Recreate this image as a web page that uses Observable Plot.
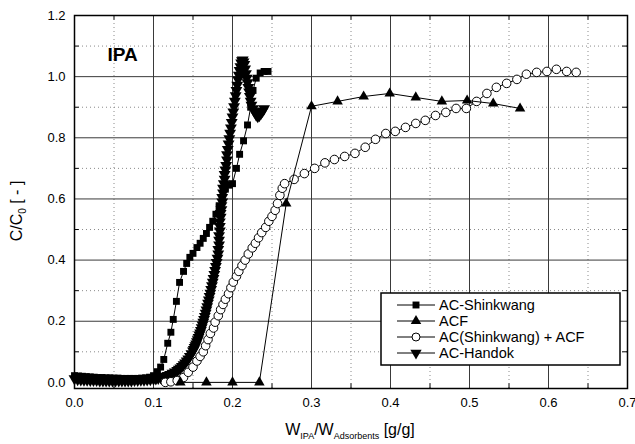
<!DOCTYPE html>
<html>
<head>
<meta charset="utf-8">
<script src="https://cdn.jsdelivr.net/npm/d3@7"></script>
<script src="https://cdn.jsdelivr.net/npm/@observablehq/plot@0.6"></script>
<style>
  html, body { margin: 0; padding: 0; background: #fff; }
  #chart svg { display: block; }
</style>
</head>
<body>
<div id="chart"></div>
<script>
// ---- data ----
const seriesNames = ["AC-Shinkwang", "ACF", "AC(Shinkwang) + ACF", "AC-Handok"];
const xTicks = [0, 0.1, 0.2, 0.3, 0.4, 0.5, 0.6, 0.7];
const yTicks = [0, 0.2, 0.4, 0.6, 0.8, 1.0, 1.2];
const xMinor = [0.05, 0.15, 0.25, 0.35, 0.45, 0.55, 0.65];
const yMinor = [0.1, 0.3, 0.5, 0.7, 0.9, 1.1];

const shinkwangX = [0.000,0.005,0.010,0.015,0.020,0.025,0.030,0.035,0.040,0.045,0.050,0.055,0.060,0.065,0.070,0.075,0.080,0.085,0.090,0.095,0.100,0.105,0.109,0.113,0.118,0.122,0.125,0.129,0.133,0.138,0.142,0.146,0.150,0.155,0.159,0.163,0.167,0.171,0.175,0.179,0.183,0.187,0.191,0.196,0.200,0.205,0.209,0.214,0.219,0.223,0.226,0.230,0.235,0.240,0.245];
const shinkwangY = [0.022,0.021,0.020,0.019,0.018,0.017,0.016,0.016,0.015,0.015,0.014,0.014,0.013,0.013,0.013,0.013,0.013,0.014,0.015,0.017,0.022,0.035,0.050,0.075,0.128,0.164,0.206,0.265,0.327,0.363,0.389,0.409,0.422,0.441,0.455,0.471,0.487,0.507,0.527,0.550,0.575,0.605,0.632,0.645,0.650,0.700,0.746,0.790,0.842,0.900,0.955,0.995,1.012,1.017,1.017];

const acfX = [0.134,0.167,0.200,0.234,0.268,0.300,0.333,0.366,0.399,0.432,0.465,0.497,0.530,0.564];
const acfY = [0.000,0.000,0.000,0.000,0.585,0.903,0.919,0.935,0.945,0.932,0.919,0.922,0.912,0.896];

const mixX = [0.115,0.122,0.130,0.138,0.144,0.150,0.155,0.159,0.163,0.166,0.169,0.172,0.176,0.178,0.182,0.185,0.188,0.191,0.195,0.198,0.201,0.205,0.208,0.212,0.216,0.220,0.225,0.229,0.233,0.237,0.242,0.246,0.250,0.254,0.257,0.260,0.263,0.266,0.278,0.291,0.304,0.317,0.329,0.342,0.355,0.368,0.381,0.394,0.406,0.419,0.432,0.444,0.457,0.470,0.483,0.496,0.509,0.522,0.534,0.547,0.560,0.572,0.585,0.598,0.610,0.623,0.635];
const mixY = [0.000,0.002,0.006,0.016,0.033,0.050,0.070,0.085,0.100,0.120,0.140,0.160,0.178,0.197,0.218,0.238,0.255,0.272,0.290,0.310,0.328,0.347,0.363,0.382,0.400,0.420,0.440,0.455,0.473,0.490,0.507,0.527,0.543,0.563,0.585,0.612,0.635,0.650,0.664,0.683,0.700,0.718,0.729,0.739,0.749,0.769,0.795,0.814,0.821,0.834,0.847,0.857,0.873,0.883,0.896,0.896,0.919,0.945,0.965,0.978,0.991,1.008,1.014,1.017,1.024,1.017,1.014];

const handokX = [0.000,0.004,0.008,0.012,0.016,0.020,0.024,0.028,0.032,0.036,0.040,0.044,0.048,0.052,0.056,0.060,0.064,0.068,0.072,0.076,0.080,0.084,0.088,0.092,0.096,0.100,0.103,0.106,0.109,0.112,0.115,0.118,0.121,0.124,0.127,0.130,0.132,0.134,0.136,0.138,0.140,0.142,0.144,0.146,0.148,0.150,0.151,0.152,0.153,0.154,0.155,0.156,0.157,0.158,0.159,0.160,0.161,0.162,0.163,0.164,0.165,0.166,0.167,0.168,0.169,0.170,0.171,0.172,0.173,0.174,0.175,0.176,0.177,0.178,0.179,0.180,0.181,0.182,0.182,0.183,0.183,0.183,0.184,0.184,0.184,0.185,0.185,0.186,0.186,0.187,0.187,0.188,0.188,0.189,0.190,0.190,0.191,0.192,0.193,0.193,0.194,0.195,0.196,0.197,0.198,0.199,0.200,0.201,0.202,0.203,0.204,0.205,0.206,0.207,0.208,0.209,0.210,0.211,0.212,0.213,0.214,0.215,0.216,0.217,0.218,0.219,0.220,0.221,0.222,0.223,0.224,0.226,0.228,0.230,0.232,0.234,0.236,0.238,0.240];
const handokY = [0.012,0.010,0.009,0.008,0.008,0.007,0.007,0.007,0.006,0.006,0.006,0.006,0.006,0.006,0.006,0.006,0.006,0.006,0.006,0.007,0.007,0.008,0.008,0.009,0.010,0.011,0.012,0.014,0.016,0.018,0.020,0.023,0.026,0.030,0.034,0.039,0.043,0.047,0.052,0.058,0.064,0.070,0.077,0.085,0.094,0.103,0.108,0.114,0.120,0.126,0.133,0.140,0.147,0.155,0.162,0.170,0.179,0.188,0.197,0.206,0.216,0.226,0.237,0.248,0.259,0.270,0.281,0.292,0.304,0.316,0.328,0.340,0.353,0.366,0.379,0.392,0.406,0.420,0.435,0.450,0.465,0.480,0.495,0.510,0.525,0.540,0.553,0.565,0.578,0.590,0.605,0.620,0.635,0.650,0.665,0.680,0.695,0.710,0.728,0.745,0.762,0.780,0.797,0.815,0.832,0.850,0.868,0.885,0.902,0.920,0.938,0.955,0.972,0.990,1.005,1.020,1.033,1.045,1.052,1.055,1.048,1.040,1.025,1.010,0.995,0.980,0.965,0.950,0.935,0.920,0.907,0.895,0.885,0.875,0.870,0.873,0.880,0.887,0.895,0.902,0.908,0.913,0.918,0.922,0.925,0.928,0.930];

// ---- build tables ----
const zip = (xs, ys) => xs.map((x, i) => ({x, y: ys[i]}));
const shinkwang = zip(shinkwangX, shinkwangY);
const acf = zip(acfX, acfY);
const mix = zip(mixX, mixY);
const handok = zip(handokX, handokY);

const triangleDown = {
  draw(context, size) {
    const y = -Math.sqrt(size / (Math.sqrt(3) * 3));
    const s3 = Math.sqrt(3);
    context.moveTo(0, -y * 2);
    context.lineTo(-s3 * y, y);
    context.lineTo(s3 * y, y);
    context.closePath();
  }
};

const FONT = "'Liberation Sans', Arial, Helvetica, sans-serif";

const chart = Plot.plot({
  width: 635,
  height: 444,
  marginLeft: 74,
  marginRight: 8,
  marginTop: 15,
  marginBottom: 56,
  style: {fontFamily: FONT, fontSize: "13px", color: "black", background: "white", overflow: "visible"},
  x: {domain: [0, 0.7]},
  y: {domain: [-0.02, 1.2]},
  marks: [
    // minor dotted grid
    Plot.ruleX(xMinor, {stroke: "#8a8a8a", strokeDasharray: "1,3", strokeWidth: 1}),
    Plot.ruleY(yMinor, {stroke: "#8a8a8a", strokeDasharray: "1,3", strokeWidth: 1}),
    // major grid
    Plot.ruleX(xTicks.slice(1, -1), {stroke: "#3a3a3a", strokeWidth: 1}),
    Plot.ruleY(yTicks.slice(1, -1), {stroke: "#3a3a3a", strokeWidth: 1}),
    // inward minor ticks
    Plot.ruleX(xMinor, {y1: -0.02, y2: -0.005, stroke: "black"}),
    Plot.ruleX(xMinor, {y1: 1.2, y2: 1.185, stroke: "black"}),
    Plot.ruleY(yMinor, {x1: 0, x2: 0.006, stroke: "black"}),
    Plot.ruleY(yMinor, {x1: 0.7, x2: 0.694, stroke: "black"}),
    // axes
    Plot.axisX({ticks: xTicks, tickFormat: d3.format(".1f"), tickSize: 0, tickPadding: 9, label: null, fontSize: 13}),
    Plot.axisY({ticks: yTicks, tickFormat: d3.format(".1f"), tickSize: 0, tickPadding: 9, label: null, fontSize: 13}),
    // series
    Plot.line(shinkwang, {x: "x", y: "y", stroke: "black", strokeWidth: 1}),
    Plot.dot(shinkwang, {x: "x", y: "y", symbol: "square", r: 3.9, fill: "black", stroke: "none"}),
    Plot.line(handok, {x: "x", y: "y", stroke: "black", strokeWidth: 1}),
    Plot.dot(handok, {x: "x", y: "y", symbol: triangleDown, r: 4.4, fill: "black", stroke: "none"}),
    Plot.line(mix, {x: "x", y: "y", stroke: "black", strokeWidth: 1}),
    Plot.dot(mix, {x: "x", y: "y", r: 4.3, fill: "white", stroke: "black", strokeWidth: 1}),
    Plot.line(acf, {x: "x", y: "y", stroke: "black", strokeWidth: 1}),
    Plot.dot(acf, {x: "x", y: "y", symbol: "triangle", r: 3.9, fill: "black", stroke: "none"}),
    // annotation
    Plot.text(["IPA"], {x: 0.061, y: 1.07, text: d => d, fontSize: 19, fontWeight: "bold", fill: "black"}),
    Plot.frame({stroke: "black", strokeWidth: 1.5})
  ]
});

const svg = d3.select(chart);

// x-axis title with subscripts
const xt = svg.append("text")
  .attr("x", 350).attr("y", 435)
  .attr("text-anchor", "middle")
  .attr("font-family", FONT).attr("font-size", 16).attr("fill", "black");
xt.append("tspan").text("W");
xt.append("tspan").attr("font-size", 9).attr("dy", 4).text("IPA");
xt.append("tspan").attr("dy", -4).text("/W");
xt.append("tspan").attr("font-size", 9).attr("dy", 4).text("Adsorbents");
xt.append("tspan").attr("dy", -4).text(" [g/g]");

// y-axis title with subscript
const yt = svg.append("text")
  .attr("transform", "translate(22,211) rotate(-90)")
  .attr("text-anchor", "middle")
  .attr("font-family", FONT).attr("font-size", 16).attr("fill", "black");
yt.append("tspan").text("C/C");
yt.append("tspan").attr("font-size", 10).attr("dy", 4).text("0");
yt.append("tspan").attr("dy", -4).text(" [ - ]");

// legend
const lg = svg.append("g").attr("font-family", FONT).attr("font-size", 14.5).attr("text-anchor", "start");
lg.append("rect").attr("x", 381).attr("y", 293).attr("width", 239).attr("height", 72)
  .attr("fill", "white").attr("stroke", "black").attr("stroke-width", 1.5);
const legSymbols = [
  {sym: d3.symbolSquare, size: Math.PI * 3.9 * 3.9, fill: "black"},
  {sym: d3.symbolTriangle, size: Math.PI * 3.9 * 3.9, fill: "black"},
  {sym: d3.symbolCircle, size: Math.PI * 4 * 4, fill: "white"},
  {sym: triangleDown, size: Math.PI * 4.2 * 4.2, fill: "black"}
];
seriesNames.forEach((name, i) => {
  const cy = 305 + i * 16;
  lg.append("line").attr("x1", 397).attr("x2", 435).attr("y1", cy).attr("y2", cy)
    .attr("stroke", "black").attr("stroke-width", 1);
  lg.append("path").attr("transform", `translate(416,${cy})`)
    .attr("d", d3.symbol(legSymbols[i].sym, legSymbols[i].size)())
    .attr("fill", legSymbols[i].fill).attr("stroke", i === 2 ? "black" : "none");
  lg.append("text").attr("x", 439).attr("y", cy).attr("dy", "0.35em")
    .attr("text-anchor", "start").attr("fill", "black").text(name);
});

document.getElementById("chart").appendChild(chart);
</script>
</body>
</html>
